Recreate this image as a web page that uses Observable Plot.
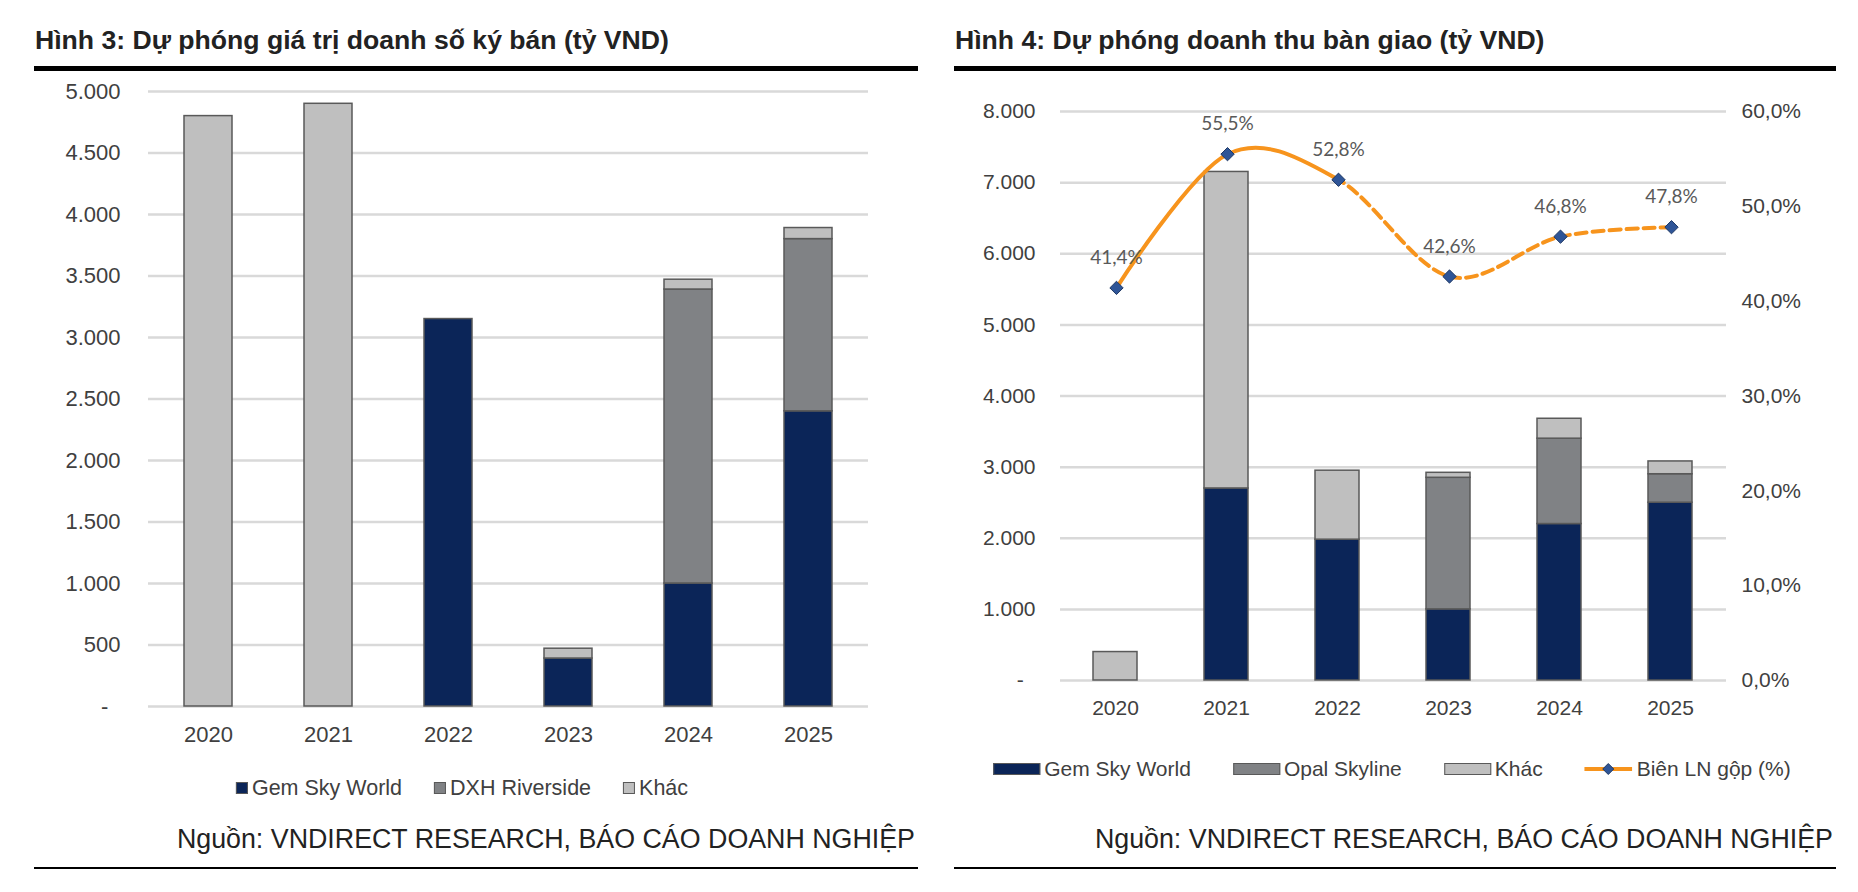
<!DOCTYPE html>
<html><head><meta charset="utf-8">
<script src="https://cdn.jsdelivr.net/npm/d3@7"></script>
<script src="https://cdn.jsdelivr.net/npm/@observablehq/plot@0.6"></script>
<style>
html,body{margin:0;padding:0;background:#fff;}
#page{position:relative;width:1858px;height:892px;overflow:hidden;font-family:"Liberation Sans",Arial,sans-serif;}
.abs{position:absolute;}
.title{font-weight:bold;font-size:26.6px;line-height:26px;color:#222;white-space:nowrap;}
.rule{background:#000;}
.src{font-size:26.8px;line-height:26px;color:#222;white-space:nowrap;}
.legend{display:flex;align-items:center;font-size:21px;line-height:24px;color:#404040;white-space:nowrap;transform:translate(-50%,-50%);}
.item{display:flex;align-items:center;}
.sw{box-sizing:border-box;border:1.5px solid #595959;}
</style></head><body><div id="page"></div>
<script>
// ---------- data ----------
const years = ["2020", "2021", "2022", "2023", "2024", "2025"];
const signSeries = ["Gem Sky World", "DXH Riverside", "Khác"];
const handSeries = ["Gem Sky World", "Opal Skyline", "Khác"];
const seriesColors = ["#0B2558", "#808285", "#BFBFBF"];
// Hình 3: doanh số ký bán (tỷ VND)
const signGem   = [0, 0, 3150, 390, 1000, 2400];
const signDXH   = [0, 0, 0, 0, 2390, 1400];
const signOther = [4800, 4900, 0, 80, 80, 90];
// Hình 4: doanh thu bàn giao (tỷ VND)
const handGem   = [0, 2700, 1980, 1000, 2200, 2500];
const handOpal  = [0, 0, 0, 1850, 1200, 400];
const handOther = [400, 4450, 970, 70, 280, 180];
// Biên LN gộp (%)
const grossMargin = [41.4, 55.5, 52.8, 42.6, 46.8, 47.8];
// ticks
const signTicks = [0, 500, 1000, 1500, 2000, 2500, 3000, 3500, 4000, 4500, 5000];
const handTicks = [0, 1000, 2000, 3000, 4000, 5000, 6000, 7000, 8000];
const marginTicks = [0, 10, 20, 30, 40, 50, 60];

const FONT = '"Liberation Sans", Arial, sans-serif';
const numFmt = d => d === 0 ? "-\u2007" : d3.format(",")(d).replace(/,/g, ".");
const pctFmt = d => d.toFixed(1).replace(".", ",") + "%";

function stackRows(series, cols) {
  const out = [];
  years.forEach((yr, i) => series.forEach((s, j) => {
    if (cols[j][i] > 0) out.push({year: yr, series: s, value: cols[j][i]});
  }));
  return out;
}
const signRows = stackRows(signSeries, [signGem, signDXH, signOther]);
const handRows = stackRows(handSeries, [handGem, handOpal, handOther]);
const marginRows = years.map((yr, i) => ({year: yr, value: grossMargin[i]}));

const page = document.getElementById("page");
function div(cls, css, html) {
  const d = document.createElement("div");
  d.className = cls;
  Object.assign(d.style, css);
  if (html != null) d.innerHTML = html;
  page.appendChild(d);
  return d;
}

// ---------- titles & rules ----------
div("abs title", {left: "35px", top: "27px"}, "Hình 3: Dự phóng giá trị doanh số ký bán (tỷ VND)");
div("abs title", {left: "955px", top: "27px"}, "Hình 4: Dự phóng doanh thu bàn giao (tỷ VND)");
div("abs rule", {left: "34px", top: "66px", width: "884px", height: "5px"});
div("abs rule", {left: "954px", top: "66px", width: "882px", height: "5px"});
div("abs rule", {left: "34px", top: "867px", width: "884px", height: "2px"});
div("abs rule", {left: "954px", top: "867px", width: "882px", height: "2px"});
div("abs src", {right: "943px", top: "826px"}, "Nguồn: VNDIRECT RESEARCH, BÁO CÁO DOANH NGHIỆP");
div("abs src", {right: "25px", top: "826px"}, "Nguồn: VNDIRECT RESEARCH, BÁO CÁO DOANH NGHIỆP");

// ---------- left chart ----------
const left = Plot.plot({
  width: 918, height: 690,
  marginLeft: 148, marginRight: 50, marginTop: 21, marginBottom: 54,
  style: {fontSize: "22px", fontFamily: FONT, color: "#404040", background: "transparent", overflow: "visible"},
  x: {domain: years, paddingInner: 0.6, paddingOuter: 0.3, tickSize: 0, tickPadding: 20, label: null},
  y: {domain: [0, 5000], ticks: signTicks, tickFormat: numFmt, tickSize: 0, tickPadding: 28, label: null},
  color: {domain: signSeries, range: seriesColors},
  marks: [
    Plot.ruleY(signTicks, {stroke: "#d9d9d9", strokeWidth: 2.5}),
    Plot.barY(signRows, {x: "year", y: "value", fill: "series", stroke: "#595959", strokeWidth: 1.5})
  ]
});
Object.assign(left.style, {position: "absolute", left: "0px", top: "70px"});
page.appendChild(left);

// ---------- right chart (bars) ----------
const right = Plot.plot({
  width: 940, height: 690,
  marginLeft: 142, marginRight: 132, marginTop: 41, marginBottom: 80,
  style: {fontSize: "21px", fontFamily: FONT, color: "#404040", background: "transparent", overflow: "visible"},
  x: {domain: years, paddingInner: 0.6, paddingOuter: 0.3, tickSize: 0, tickPadding: 20, label: null},
  y: {domain: [0, 8000], ticks: handTicks, tickFormat: numFmt, tickSize: 0, tickPadding: 25, label: null},
  color: {domain: handSeries, range: seriesColors},
  marks: [
    Plot.ruleY(handTicks, {stroke: "#d9d9d9", strokeWidth: 2.5}),
    Plot.barY(handRows, {x: "year", y: "value", fill: "series", stroke: "#595959", strokeWidth: 1.5})
  ]
});
Object.assign(right.style, {position: "absolute", left: "918px", top: "70px"});
page.appendChild(right);

// ---------- right chart (margin line, secondary axis) ----------
const lineOpts = {x: "year", y: "value", curve: "cardinal", tension: 0, stroke: "#F7941D", strokeWidth: 4};
const over = Plot.plot({
  width: 940, height: 690,
  marginLeft: 142, marginRight: 132, marginTop: 41, marginBottom: 80,
  style: {fontSize: "21px", fontFamily: FONT, color: "#404040", background: "transparent", overflow: "visible"},
  x: {type: "point", domain: years, padding: 0.5, axis: null},
  y: {domain: [0, 60], ticks: marginTicks, tickFormat: pctFmt, axis: "right", tickSize: 0, tickPadding: 15, label: null},
  marks: [
    Plot.line(marginRows, lineOpts),
    Plot.line(marginRows, {...lineOpts, strokeDasharray: "11,6"}),
    Plot.dot(marginRows, {x: "year", y: "value", symbol: "diamond2", r: 6, fill: "#2F5597", stroke: "#1F3864", strokeWidth: 1}),
    Plot.text(marginRows, {x: "year", y: "value", text: d => pctFmt(d.value), dy: -30, fill: "#595959", fontSize: 19, fontFamily: "Lato, 'Open Sans', sans-serif"})
  ]
});
Object.assign(over.style, {position: "absolute", left: "918px", top: "70px"});
page.appendChild(over);

// solid up to 2022, dashed afterwards
(function () {
  const ns = "http://www.w3.org/2000/svg";
  const sx = over.scale("x");
  const xc = sx && sx.apply ? sx.apply("2022") : 142 + 111 * 2.5;
  const lines = over.querySelectorAll('g[aria-label="line"]');
  const defs = document.createElementNS(ns, "defs");
  over.insertBefore(defs, over.firstChild);
  function mk(id, x0, x1) {
    const cp = document.createElementNS(ns, "clipPath");
    cp.setAttribute("id", id);
    const r = document.createElementNS(ns, "rect");
    r.setAttribute("x", x0); r.setAttribute("y", -50);
    r.setAttribute("width", x1 - x0); r.setAttribute("height", 800);
    cp.appendChild(r); defs.appendChild(cp);
  }
  mk("clipSolid", -50, xc);
  mk("clipDash", xc, 1000);
  if (lines[0]) lines[0].setAttribute("clip-path", "url(#clipSolid)");
  if (lines[1]) lines[1].setAttribute("clip-path", "url(#clipDash)");
})();

// ---------- legends ----------
function legend(items, cx, cy, gap, swW, swH, fs) {
  const lg = div("abs legend", {left: cx + "px", top: cy + "px", gap: gap + "px", fontSize: fs + "px"});
  items.forEach(it => {
    const item = document.createElement("div");
    item.className = "item";
    if (it.type === "line") {
      item.innerHTML = `<svg width="48" height="14" style="margin-right:4px"><line x1="0" y1="7" x2="48" y2="7" stroke="#F7941D" stroke-width="4"/><path d="M24,1.5L29.5,7L24,12.5L18.5,7Z" fill="#2F5597" stroke="#1F3864" stroke-width="1"/></svg>`;
    } else {
      const sw = document.createElement("div");
      sw.className = "sw";
      Object.assign(sw.style, {width: swW + "px", height: swH + "px", background: it.color, marginRight: "4px"});
      item.appendChild(sw);
    }
    const t = document.createElement("span");
    t.textContent = it.label;
    item.appendChild(t);
    lg.appendChild(item);
  });
}
legend(signSeries.map((s, i) => ({label: s, color: seriesColors[i]})), 462, 788, 32, 12, 12, 21.5);
legend([...handSeries.map((s, i) => ({label: s, color: seriesColors[i]})), {type: "line", label: "Biên LN gộp (%)"}], 1392, 769, 42, 47, 12, 21);
</script></body></html>
